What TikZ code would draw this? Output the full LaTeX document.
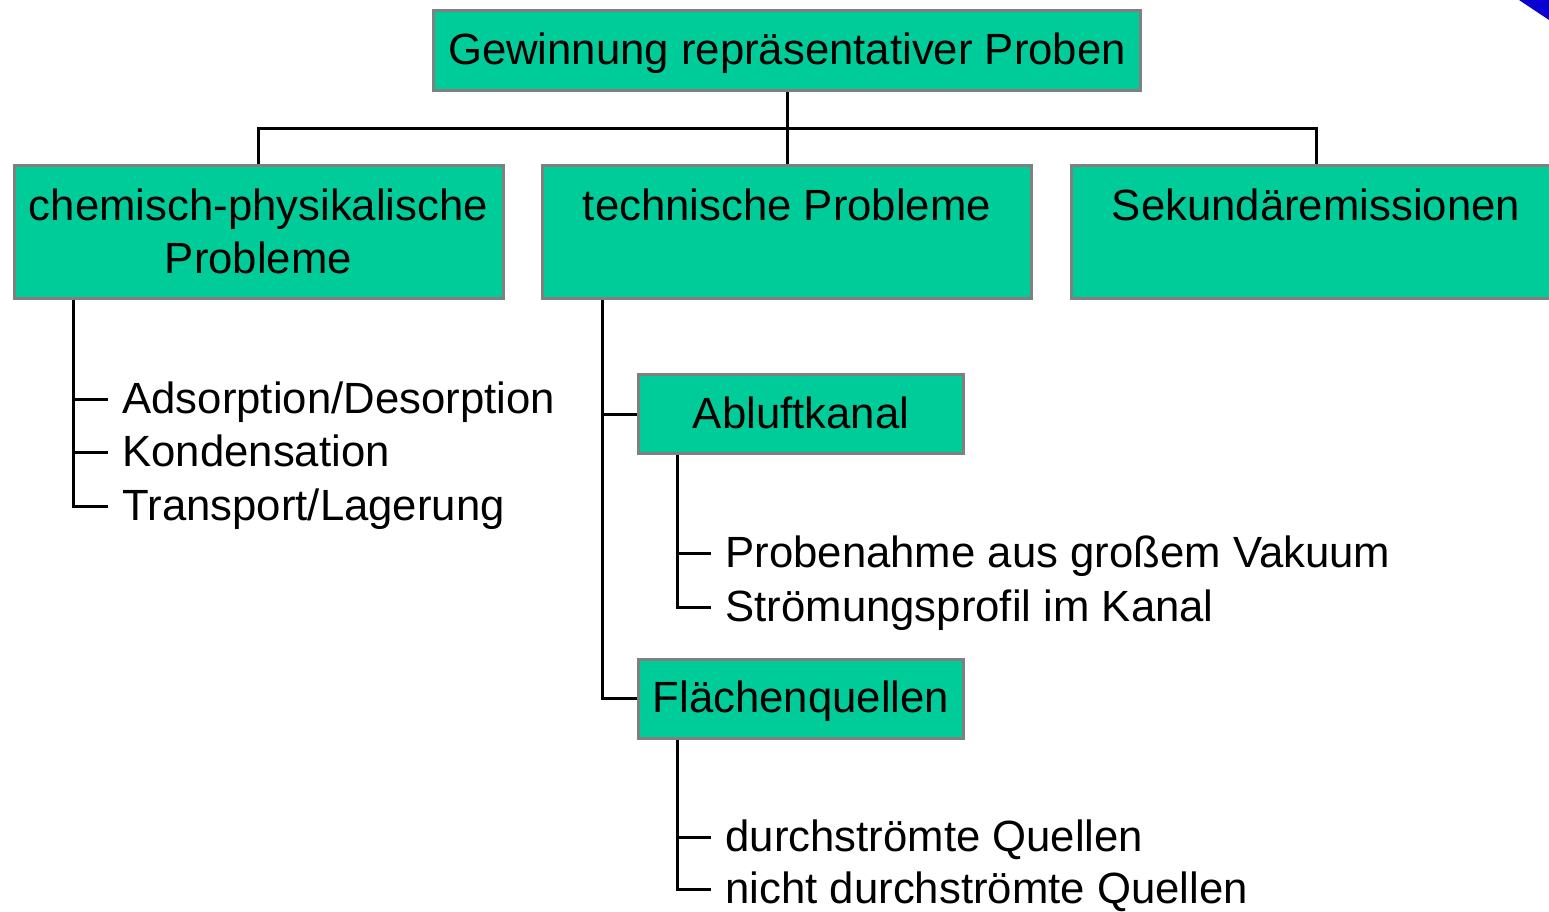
\documentclass[tikz,border=0pt]{standalone}
\usepackage{fontspec}
\setmainfont{Liberation Sans}
\definecolor{boxGreen}{RGB}{0,204,153}
\definecolor{boxGray}{RGB}{128,128,128}
\definecolor{cornerBlue}{RGB}{10,0,210}
\begin{document}
\begin{tikzpicture}[x=1pt, y=-1pt, line width=3pt,
        boxStyle/.style={draw=boxGray, fill=boxGreen, inner sep=0pt, align=center, font=\fontsize{43.7pt}{53.5pt}\selectfont},
        topStyle/.style={boxStyle, minimum width=489pt, minimum height=133pt, text height=54.5pt, text depth=78.5pt},
        subStyle/.style={boxStyle, text height=32pt, text depth=4pt},
        itemStyle/.style={anchor=west, inner xsep=13pt, inner ysep=0pt, text height=31pt, text depth=3pt, font=\fontsize{43.7pt}{53.5pt}\selectfont}]
    \useasboundingbox (0,0) rectangle (1549,911);
    \fill[cornerBlue] (1519,0) -- (1549,0) -- (1549,20) -- cycle;

    \node[subStyle, minimum width=707pt, minimum height=80pt](root) at (787,50.5) {Gewinnung repräsentativer Proben};
    \node[topStyle, text height=108pt, text depth=25pt](chem) at (258.5,232) {chemisch-physikalische\\Probleme};
    \node[topStyle](tech) at (787,232) {technische Probleme};
    \node[topStyle](sek) at (1316,232) {Sekundäremissionen};
    \node[subStyle, minimum width=325pt, minimum height=79pt](abluft) at (801,414) {Abluftkanal};
    \node[subStyle, minimum width=325pt, minimum height=79pt](flaechen) at (801,698.5) {Flächenquellen};

    \node[itemStyle](ad) at (108,399) {Adsorption/Desorption};
    \node[itemStyle](ko) at (108,452) {Kondensation};
    \node[itemStyle](tr) at (108,506) {Transport/Lagerung};
    \node[itemStyle](pv) at (711,553) {Probenahme aus großem Vakuum};
    \node[itemStyle](sp) at (711,607) {Strömungsprofil im Kanal};
    \node[itemStyle](dq) at (711,837) {durchströmte Quellen};
    \node[itemStyle](nq) at (711,889) {nicht durchströmte Quellen};

    \coordinate (chemLine) at ([xshift=61pt]chem.south west);
    \coordinate (techLine) at ([xshift=61pt]tech.south west);
    \coordinate (abluftLine) at ([xshift=40pt]abluft.south west);
    \coordinate (flaechenLine) at ([xshift=40pt]flaechen.south west);

    \draw (root) -- (tech);
    \draw (chem.north) -- ++(0,-36) -| (sek.north);
    \draw (chemLine) |- (tr.west);
    \foreach \n in {ad,ko} \draw (chemLine |- \n.west) -- (\n.west);
    \draw (techLine) |- (flaechen.west);
    \draw (techLine |- abluft.west) -- (abluft.west);
    \draw (abluftLine) |- (sp.west);
    \draw (abluftLine |- pv.west) -- (pv.west);
    \draw (flaechenLine) |- (nq.west);
    \draw (flaechenLine |- dq.west) -- (dq.west);
\end{tikzpicture}
\end{document}
